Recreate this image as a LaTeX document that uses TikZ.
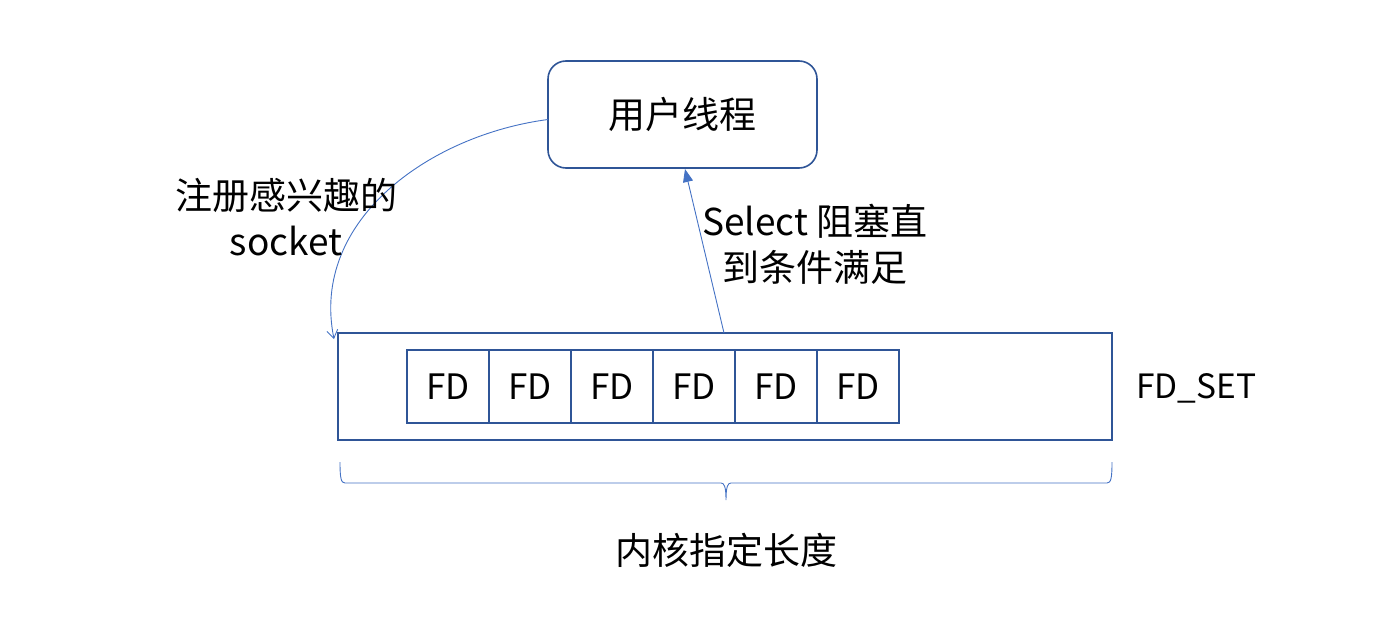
\documentclass[tikz,border=0pt]{standalone}
\usepackage{fontspec}
\setmainfont{Noto Sans CJK SC}
\usetikzlibrary{arrows.meta}
\definecolor{boxblue}{HTML}{2F5597}
\definecolor{lineblue}{HTML}{4472C4}
\tikzset{
  txt/.style={font=\fontsize{37}{46}\selectfont, align=center, inner sep=0pt},
  fdbox/.style={draw=boxblue, line width=1.6pt, minimum width=82pt, minimum height=73pt, inner sep=0pt, outer sep=0pt, font=\fontsize{35}{40}\selectfont},
  conn/.style={draw=lineblue, line width=0.9pt},
}
\begin{document}
\begin{tikzpicture}[x=1pt,y=-1pt]
\useasboundingbox (0,0) rectangle (1378,631);
\node[draw=boxblue, line width=1.6pt, rounded corners=18pt, minimum width=269pt, minimum height=107pt, inner sep=0pt, outer sep=0pt, font=\fontsize{37}{40}\selectfont] (user) at (682.5,114.5) {用户线程};
\node[draw=boxblue, line width=1.6pt, minimum width=774pt, minimum height=107pt, inner sep=0pt, outer sep=0pt] (fdset) at (725,386.5) {};
\foreach \i/\x in {1/448,2/530,3/612,4/694,5/776,6/858}{
  \node[fdbox] (fd\i) at (\x,386.5) {FD};
}
\node[font=\fontsize{33.5}{40}\selectfont, inner sep=0pt, anchor=west] (fdsetlbl) at (1136,388) {FD\_SET};
\coordinate (curveend) at (334,339);
\draw[conn, -{Straight Barb[length=8pt,width=11pt]}] ([yshift=-5pt]user.west) .. controls (430,135) and (310,220) .. (curveend);
\draw[conn, -{Triangle[length=13pt,width=10pt]}] ([xshift=-1pt]fdset.north) -- ([xshift=2.5pt,yshift=-1pt]user.south);
\node[txt] (reg) at (286,217) {注册感兴趣的\\socket};
\node[txt] (sel) at (815,244) {Select 阻塞直\\到条件满足};
\coordinate (bl) at (340,462);
\coordinate (br) at (1112,462);
\coordinate (btip) at (726,500);
\draw[conn] (bl) .. controls (340,478) and (341,483) .. (345,483) -- (721,483) .. controls (724,483) and (726,486) .. (btip) .. controls (726,486) and (728,483) .. (731,483) -- (1107,483) .. controls (1111,483) and (1112,478) .. (br);
\node[txt] (kern) at (726,550) {内核指定长度};
\end{tikzpicture}
\end{document}
